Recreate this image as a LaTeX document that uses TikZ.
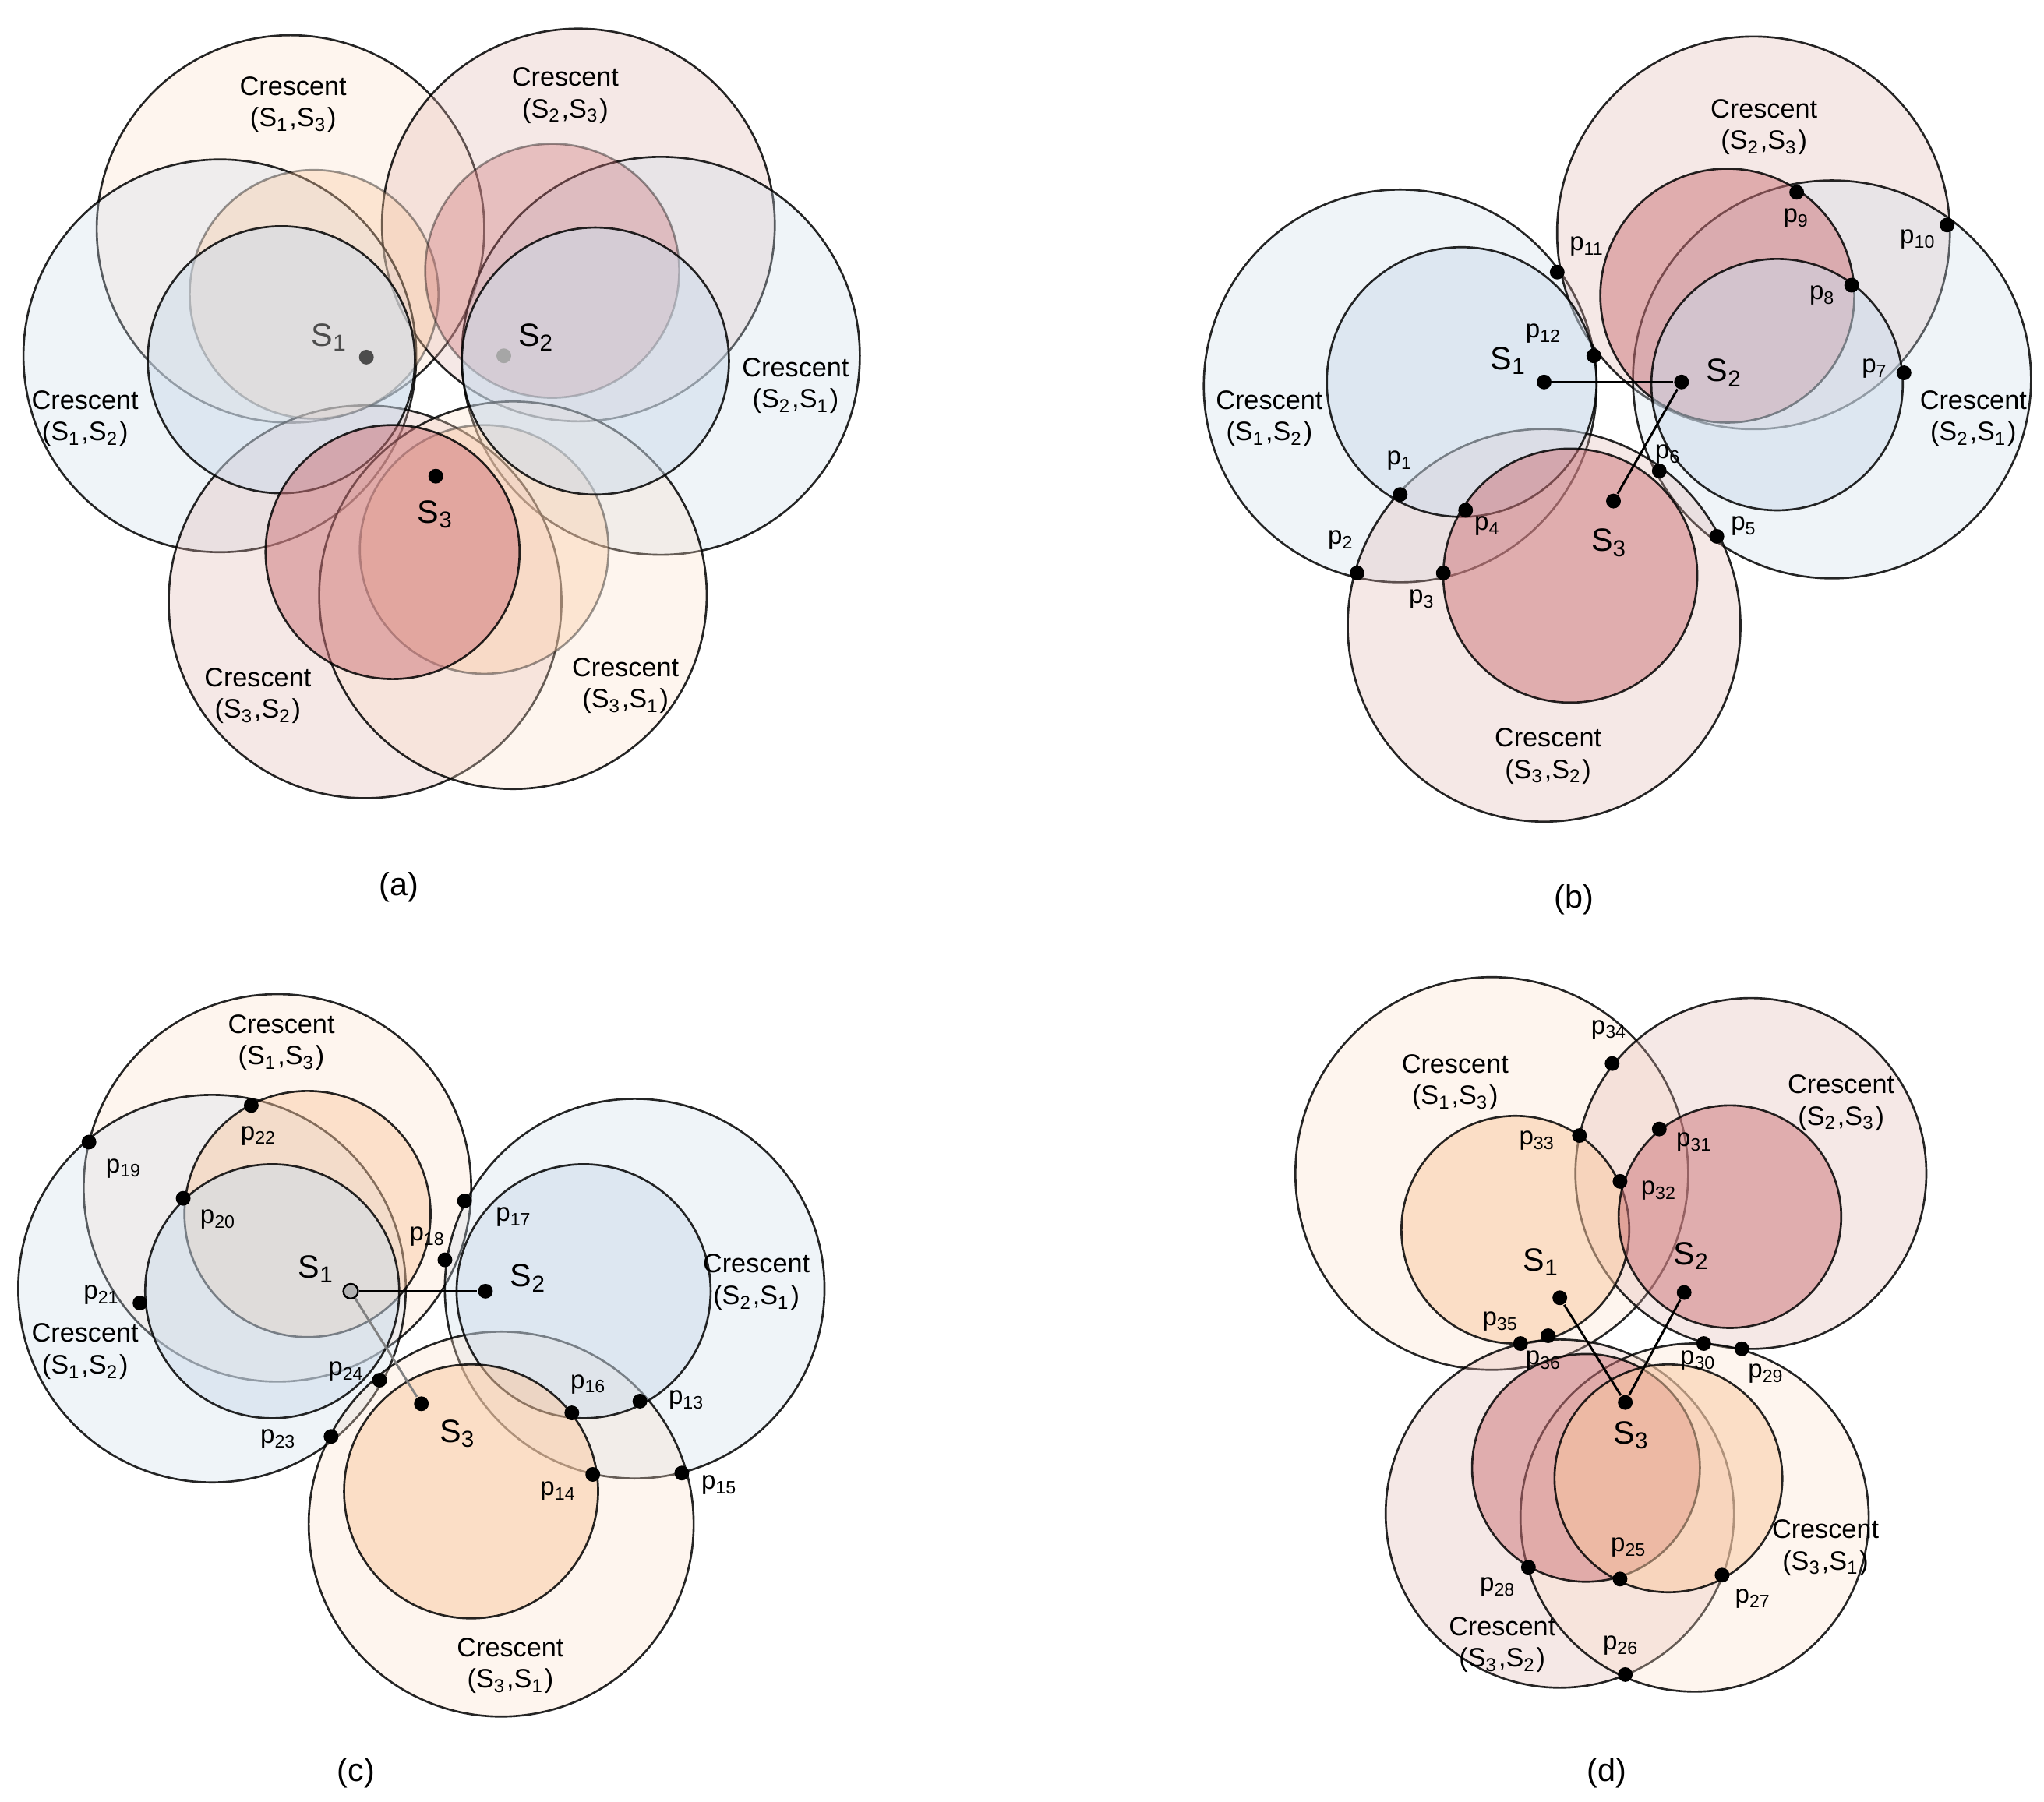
\documentclass[tikz,border=0pt]{standalone}
\usepackage{fontspec}
\setmainfont{Liberation Sans}
\definecolor{BL}{RGB}{205,220,235}
\definecolor{OR}{RGB}{250,200,160}
\definecolor{PK}{RGB}{225,180,175}
\definecolor{RD}{RGB}{205,115,120}
\definecolor{PE}{RGB}{252,222,200}
\newcommand\crc[4]{\filldraw[circ,fill=#4] (#1,#2) circle[radius=#3cm];}
\newcommand\ptx[5]{\node[dot] (#1) at (#2) {}; \node[pl] (l#1) at (#3) {p\textsubscript{#4}};}
\newcommand\cres[4]{\node[cl] (#1) at (#2) {Crescent\\(S\textsubscript{#3},S\textsubscript{#4})};}
\begin{document}
\begin{tikzpicture}[x=0.01cm,y=-0.01cm,
 circ/.style={draw=black,draw opacity=0.85,line width=0.45pt,fill opacity=0.3},
 ci/.style={circ,fill opacity=0.5},
 dot/.style={circle,fill=black,inner sep=0pt,minimum size=3.2pt},
 pl/.style={font=\fontsize{5.6}{6.4}\selectfont,inner sep=0pt},
 cl/.style={font=\fontsize{5.8}{6.8}\selectfont,align=center,inner sep=0pt},
 sl/.style={font=\fontsize{7}{8}\selectfont,inner sep=0pt},
 capt/.style={font=\fontsize{7}{8}\selectfont,inner sep=0pt},
 ln/.style={line width=0.5pt}]
\useasboundingbox[fill=white] (0,0) rectangle (1562,1377);
% ---------- (a)
\crc{222}{175}{1.48}{PE}
\crc{442}{172}{1.50}{PK}
\crc{168}{272}{1.50}{BL}
\crc{505}{272}{1.52}{BL}
\crc{279}{460}{1.50}{PK}
\crc{392}{455}{1.48}{PE}
\filldraw[circ,fill=OR,fill opacity=0.35,draw opacity=0.4] (240,225) circle[radius=0.95cm];
\filldraw[circ,fill=RD,fill opacity=0.35,draw opacity=0.4] (422,207) circle[radius=0.97cm];
\filldraw[circ,fill=OR,fill opacity=0.35,draw opacity=0.4] (370,420) circle[radius=0.95cm];
\filldraw[ci,fill=BL] (215,275) circle[radius=1.02cm];
\filldraw[ci,fill=BL] (455,276) circle[radius=1.02cm];
\filldraw[ci,fill=RD] (300,422) circle[radius=0.97cm];
\node[dot,fill=black!70] (a1) at (280,273) {};
\node[dot,fill=black!35] (a2) at (385,272) {};
\node[dot] (a3) at (333,364) {};
\node[sl,text=black!70] (la1) at (252,258) {S\textsubscript{1}};
\node[sl] (la2) at (410,258) {S\textsubscript{2}};
\node[sl] (la3) at (333,393) {S\textsubscript{3}};
\cres{ca1}{224,80}{1}{3}
\cres{ca2}{432,73}{2}{3}
\cres{ca3}{65,320}{1}{2}
\cres{ca4}{608,295}{2}{1}
\cres{ca5}{197,532}{3}{2}
\cres{ca6}{478,524}{3}{1}
\node[capt] (A) at (305,678) {(a)};
% ---------- (b)
\crc{1070}{295}{1.50}{BL}
\crc{1340}{178}{1.50}{PK}
\crc{1400}{290}{1.52}{BL}
\crc{1180}{478}{1.50}{PK}
\filldraw[ci,fill=BL] (1117,292) circle[radius=1.03cm];
\filldraw[ci,fill=RD] (1320,226) circle[radius=0.97cm];
\filldraw[ci,fill=BL] (1358,294) circle[radius=0.96cm];
\filldraw[ci,fill=RD] (1200,440) circle[radius=0.97cm];
\node[dot] (b1) at (1180,292) {};
\node[dot] (b2) at (1285,292) {};
\node[dot] (b3) at (1233,383) {};
\draw[ln] (b1) -- (b2); \draw[ln] (b2) -- (b3);
\node[sl] (lb1) at (1153,276) {S\textsubscript{1}};
\node[sl] (lb2) at (1318,285) {S\textsubscript{2}};
\node[sl] (lb3) at (1230,415) {S\textsubscript{3}};
\ptx{p1}{1070,378}{1070,352}{1}{}
\ptx{p2}{1037,438}{1025,413}{2}{}
\ptx{p3}{1103,438}{1087,458}{3}{}
\ptx{p4}{1120,390}{1137,402}{4}{}
\ptx{p5}{1312,410}{1333,402}{5}{}
\ptx{p6}{1268,360}{1275,347}{6}{}
\ptx{p7}{1455,285}{1433,282}{7}{}
\ptx{p8}{1415,218}{1393,226}{8}{}
\ptx{p9}{1373,147}{1373,167}{9}{}
\ptx{p10}{1488,172}{1466,183}{10}{}
\ptx{p11}{1190,208}{1213,188}{11}{}
\ptx{p12}{1218,272}{1180,255}{12}{}
\cres{cb1}{1348,97}{2}{3}
\cres{cb2}{970,320}{1}{2}
\cres{cb3}{1508,320}{2}{1}
\cres{cb4}{1183,578}{3}{2}
\node[capt] (B) at (1203,688) {(b)};
% ---------- (c)
\crc{212}{908}{1.48}{PE}
\crc{162}{985}{1.48}{BL}
\crc{485}{985}{1.45}{BL}
\crc{383}{1165}{1.47}{PE}
\filldraw[circ,fill=OR,fill opacity=0.45] (235,928) circle[radius=0.94cm];
\filldraw[ci,fill=BL] (208,987) circle[radius=0.97cm];
\filldraw[ci,fill=BL] (446,987) circle[radius=0.97cm];
\filldraw[ci,fill=OR] (360,1140) circle[radius=0.97cm];
\node[circle,draw=black,fill=black!30,inner sep=0pt,minimum size=3.2pt] (c1) at (268,987) {};
\node[dot] (c2) at (371,987) {};
\node[dot] (c3) at (322,1073) {};
\draw[ln] (c1) -- (c2); \draw[ln,black!50] (c1) -- (c3);
\node[sl] (lc1) at (242,970) {S\textsubscript{1}};
\node[sl] (lc2) at (404,977) {S\textsubscript{2}};
\node[sl] (lc3) at (350,1096) {S\textsubscript{3}};
\ptx{p13}{489,1071}{525,1070}{13}{}
\ptx{p14}{453,1127}{427,1140}{14}{}
\ptx{p15}{521,1126}{550,1135}{15}{}
\ptx{p16}{437,1080}{450,1058}{16}{}
\ptx{p17}{355,918}{393,930}{17}{}
\ptx{p18}{340,963}{327,945}{18}{}
\ptx{p19}{68,873}{95,893}{19}{}
\ptx{p20}{140,916}{167,932}{20}{}
\ptx{p21}{107,996}{78,990}{21}{}
\ptx{p22}{192,845}{198,868}{22}{}
\ptx{p23}{253,1098}{213,1100}{23}{}
\ptx{p24}{290,1055}{265,1048}{24}{}
\cres{cc1}{215,797}{1}{3}
\cres{cc2}{65,1033}{1}{2}
\cres{cc3}{578,980}{2}{1}
\cres{cc4}{390,1273}{3}{1}
\node[capt] (C) at (272,1355) {(c)};
% ---------- (d)
\crc{1140}{897}{1.50}{PE}
\crc{1338}{897}{1.34}{PK}
\filldraw[ci,fill=OR] (1158,940) circle[radius=0.87cm];
\filldraw[ci,fill=RD] (1322,930) circle[radius=0.85cm];
\crc{1192}{1157}{1.33}{PK}
\crc{1295}{1160}{1.33}{PE}
\filldraw[ci,fill=RD] (1212,1122) circle[radius=0.87cm];
\filldraw[ci,fill=OR] (1275,1130) circle[radius=0.87cm];
\node[dot] (d1) at (1192,992) {};
\node[dot] (d2) at (1287,988) {};
\node[dot] (d3) at (1242,1072) {};
\draw[ln] (d1) -- (d3); \draw[ln] (d2) -- (d3);
\node[sl] (ld1) at (1178,965) {S\textsubscript{1}};
\node[sl] (ld2) at (1293,960) {S\textsubscript{2}};
\node[sl] (ld3) at (1247,1097) {S\textsubscript{3}};
\ptx{p25}{1238,1207}{1245,1183}{25}{}
\ptx{p26}{1242,1280}{1239,1258}{26}{}
\ptx{p27}{1316,1204}{1340,1222}{27}{}
\ptx{p28}{1168,1198}{1145,1213}{28}{}
\ptx{p29}{1331,1031}{1350,1050}{29}{}
\ptx{p30}{1302,1027}{1298,1040}{30}{}
\ptx{p31}{1268,863}{1295,873}{31}{}
\ptx{p32}{1238,903}{1268,910}{32}{}
\ptx{p33}{1207,868}{1175,872}{33}{}
\ptx{p34}{1232,813}{1230,787}{34}{}
\ptx{p35}{1162,1027}{1147,1010}{35}{}
\ptx{p36}{1183,1021}{1180,1040}{36}{}
\cres{cd1}{1112,827}{1}{3}
\cres{cd2}{1407,843}{2}{3}
\cres{cd3}{1395,1183}{3}{1}
\cres{cd4}{1148,1257}{3}{2}
\node[capt] (D) at (1228,1355) {(d)};
\end{tikzpicture}
\end{document}
